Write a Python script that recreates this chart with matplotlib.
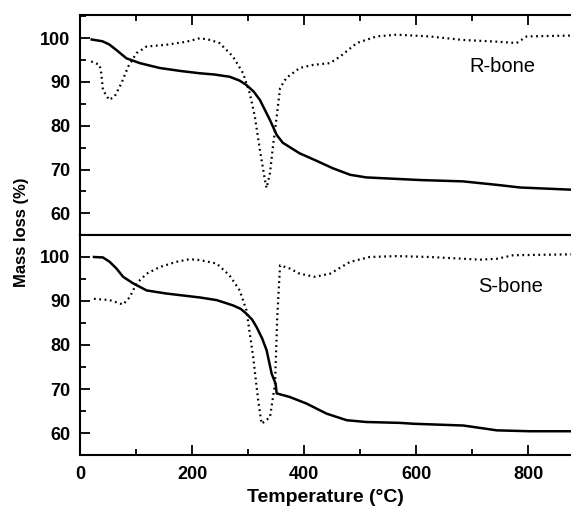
import matplotlib.pyplot as plt
from matplotlib.ticker import MultipleLocator

plt.rcParams['font.family'] = ['Liberation Sans', 'DejaVu Sans']

# R-bone (upper panel)
r_tg_t = [21, 40, 52, 65, 83, 107, 142, 180, 213, 240, 267, 285, 297, 310, 321, 339, 351,
          362, 392, 422, 451, 482, 511, 559, 607, 683, 744, 785, 876]
r_tg = [99.7, 99.3, 98.6, 97.3, 95.4, 94.3, 93.2, 92.5, 92.0, 91.7, 91.2, 90.3, 89.3,
        87.8, 85.9, 81.3, 77.9, 76.1, 73.7, 72.0, 70.3, 68.8, 68.2, 67.9, 67.6, 67.3,
        66.5, 65.9, 65.4]
r_dtg_t = [20, 35, 38, 41, 52, 62, 74, 86, 101, 119, 154, 190, 214, 232, 249, 273, 291,
           303, 312, 321, 330, 333, 339, 345, 351, 357, 368, 392, 416, 446, 464, 494,
           529, 565, 624, 683, 744, 779, 797, 876]
r_dtg = [94.7, 93.9, 92.0, 88.2, 85.9, 86.7, 89.7, 93.5, 96.6, 98.1, 98.5, 99.2, 100.0,
         99.6, 98.9, 95.8, 92.0, 87.4, 82.1, 74.5, 67.6, 65.8, 69.2, 76.0, 82.1, 88.6,
         90.9, 93.2, 93.9, 94.3, 95.8, 98.9, 100.4, 100.8, 100.4, 99.6, 99.2, 98.9,
         100.4, 100.6]

# S-bone (lower panel)
s_tg_t = [25, 41, 53, 65, 77, 95, 119, 154, 214, 244, 273, 287, 297, 307, 315, 325, 333,
          342, 349, 351, 374, 404, 440, 476, 511, 571, 595, 684, 744, 803, 876]
s_tg = [100.0, 99.9, 98.9, 97.4, 95.5, 94.0, 92.4, 91.7, 90.8, 90.2, 89.0, 88.2, 87.1,
        85.8, 84.1, 81.5, 78.8, 73.5, 71.2, 69.0, 68.2, 66.7, 64.4, 62.9, 62.5, 62.3,
        62.1, 61.7, 60.6, 60.4, 60.4]
s_dtg_t = [25, 53, 77, 89, 101, 119, 142, 172, 196, 214, 244, 267, 285, 297, 309, 318,
           324, 339, 348, 352, 357, 374, 392, 419, 446, 482, 517, 565, 624, 714, 744,
           773, 876]
s_dtg = [90.5, 90.2, 89.2, 90.9, 94.0, 96.2, 97.7, 98.9, 99.5, 99.3, 98.5, 95.8, 92.4,
         87.9, 77.3, 67.4, 62.1, 63.6, 71.2, 86.4, 98.1, 97.4, 96.2, 95.5, 96.2, 98.9,
         100.0, 100.2, 100.0, 99.4, 99.6, 100.4, 100.6]

fig = plt.figure(figsize=(5.71, 5.15), dpi=100)
ax1 = fig.add_axes([0.140, 0.5437, 0.860, 0.4272])
ax2 = fig.add_axes([0.140, 0.1165, 0.860, 0.4272], sharex=ax1)

panels = [(ax1, r_tg_t, r_tg, r_dtg_t, r_dtg, 'R-bone', 0.794, 0.764, 55.05, 105.3),
          (ax2, s_tg_t, s_tg, s_dtg_t, s_dtg, 'S-bone', 0.810, 0.765, 55, 105)]

for ax, tt, tg, dt, dtg, name, lx, ly, y0, y1 in panels:
    ax.plot(tt, tg, color='black', linewidth=1.8)
    ax.plot(dt, dtg, color='black', linewidth=1.6, linestyle=(0, (0.8, 1.6)))
    ax.set_xlim(0, 876)
    ax.set_ylim(y0, y1)
    ax.yaxis.set_major_locator(MultipleLocator(10))
    ax.yaxis.set_minor_locator(MultipleLocator(5))
    ax.xaxis.set_major_locator(MultipleLocator(200))
    ax.xaxis.set_minor_locator(MultipleLocator(100))
    ax.set_yticks([60, 70, 80, 90, 100])
    ax.tick_params(which='both', direction='in', width=1.3, labelsize=13, right=False)
    ax.tick_params(which='major', length=7, pad=7)
    ax.tick_params(which='minor', length=4)
    for lbl in ax.get_yticklabels():
        lbl.set_fontweight('bold')
    ax.spines['right'].set_visible(False)
    for s in ['left', 'top', 'bottom']:
        ax.spines[s].set_linewidth(1.5)
    ax.text(lx, ly, name, transform=ax.transAxes, fontsize=14.5, ha='left', va='center')

ax1.tick_params(which='both', top=True, bottom=False, labelbottom=False)
ax2.tick_params(which='both', top=False, bottom=True)
ax2.tick_params(axis='x', which='major', pad=8)
for lbl in ax2.get_xticklabels():
    lbl.set_fontweight('bold')

ax2.set_xlabel('Temperature (°C)', fontsize=14, fontweight='bold', labelpad=4)
fig.text(0.038, 0.549, 'Mass loss (%)', rotation=90, fontsize=12, fontweight='bold',
         ha='center', va='center')

fig.savefig('out.png', dpi=100)
